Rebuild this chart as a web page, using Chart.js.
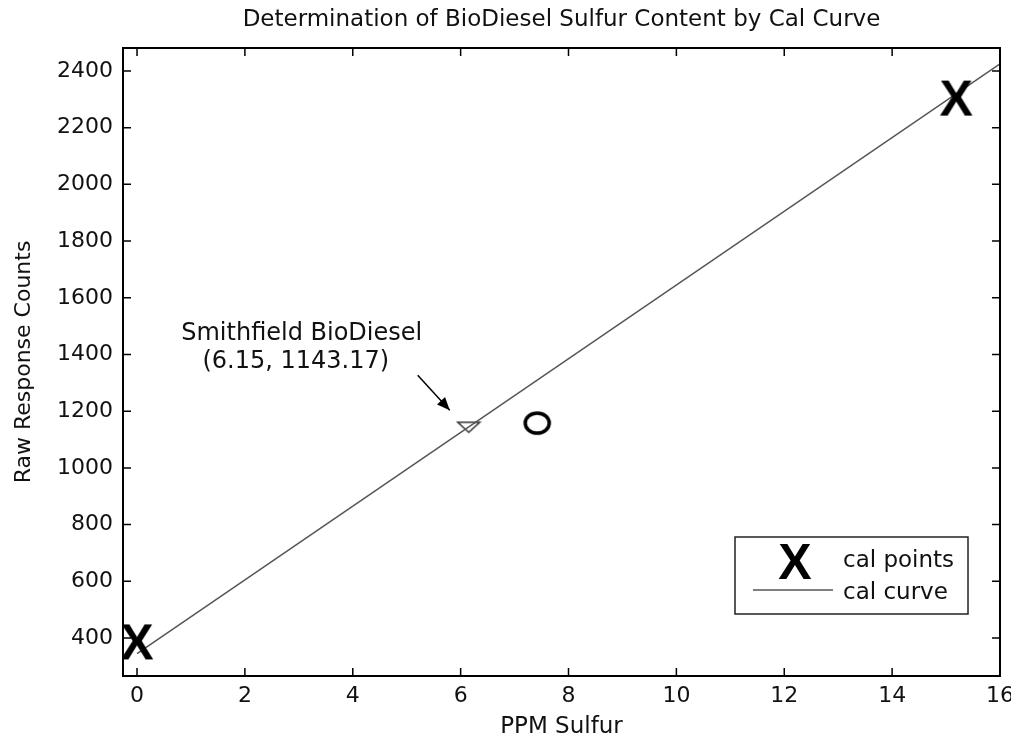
<!DOCTYPE html>
<html>
<head>
<meta charset="utf-8">
<script src="https://cdn.jsdelivr.net/npm/chart.js@4.4.1/dist/chart.umd.min.js"></script>
<style>
  html, body { margin: 0; padding: 0; background: #fff; }
  canvas { display: block; }
</style>
</head>
<body>
<canvas id="calChart" width="1011" height="737"></canvas>
<script>
const chartTitle = "Determination of BioDiesel Sulfur Content by Cal Curve";
const xAxisTitle = "PPM Sulfur";
const yAxisTitle = "Raw Response Counts";

const xTickValues = [0, 2, 4, 6, 8, 10, 12, 14, 16];
const yTickValues = [400, 600, 800, 1000, 1200, 1400, 1600, 1800, 2000, 2200, 2400];

// calibration standards (big X marks)
const calPointsX = [0, 15.19];
const calPointsY = [388, 2306];
// fitted calibration line
const calCurveX = [0, 16];
const calCurveY = [345, 2425];
// the sample that was measured
const sampleX = [6.15];
const sampleY = [1143.17];
const sampleNote = ["Smithfield BioDiesel", "(6.15, 1143.17)"];
// the loose "O" mark
const otherX = [7.42];
const otherY = [1158];

const FONT = "'DejaVu Sans', sans-serif";

function toPoints(xs, ys) {
  return xs.map((v, i) => ({ x: v, y: ys[i] }));
}

// marker images
function makeX() {
  const c = document.createElement('canvas');
  c.width = 42; c.height = 46;
  const g = c.getContext('2d');
  g.fillStyle = '#000';
  g.font = "bold 50px 'Liberation Sans', Arial, sans-serif";
  g.textAlign = 'center';
  g.textBaseline = 'alphabetic';
  g.fillText('X', 21, 23 + 18);
  return c;
}

function makeO() {
  const c = document.createElement('canvas');
  c.width = 32; c.height = 28;
  const g = c.getContext('2d');
  g.strokeStyle = '#000';
  g.lineWidth = 3.5;
  g.beginPath();
  g.ellipse(16, 14, 12, 10, 0, 0, Math.PI * 2);
  g.stroke();
  return c;
}

function makeTriangle() {
  const c = document.createElement('canvas');
  c.width = 26; c.height = 14;
  const g = c.getContext('2d');
  g.fillStyle = '#fff';
  g.strokeStyle = '#333';
  g.lineWidth = 1.5;
  g.beginPath();
  g.moveTo(2, 2);
  g.lineTo(24, 2);
  g.lineTo(13, 12);
  g.closePath();
  g.fill();
  g.stroke();
  return c;
}

const xMark = makeX();
const oMark = makeO();
const triMark = makeTriangle();

const framePlugin = {
  id: 'frame',
  beforeDraw(chart) {
    const ctx = chart.ctx;
    ctx.save();
    ctx.fillStyle = '#fff';
    ctx.fillRect(0, 0, chart.width, chart.height);
    ctx.restore();
  },
  afterDraw(chart) {
    const { ctx, chartArea: a, scales: { x, y } } = chart;
    ctx.save();

    // inward ticks on all four sides
    ctx.strokeStyle = '#000';
    ctx.lineWidth = 1.5;
    const tl = 8;
    xTickValues.forEach(v => {
      const px = x.getPixelForValue(v);
      ctx.beginPath();
      ctx.moveTo(px, a.bottom); ctx.lineTo(px, a.bottom - tl);
      ctx.moveTo(px, a.top); ctx.lineTo(px, a.top + tl);
      ctx.stroke();
    });
    yTickValues.forEach(v => {
      const py = y.getPixelForValue(v);
      ctx.beginPath();
      ctx.moveTo(a.left, py); ctx.lineTo(a.left + tl, py);
      ctx.moveTo(a.right, py); ctx.lineTo(a.right - tl, py);
      ctx.stroke();
    });

    // box
    ctx.lineWidth = 2;
    ctx.strokeRect(a.left, a.top, a.right - a.left, a.bottom - a.top);

    // titles
    const cx = (a.left + a.right) / 2;
    ctx.fillStyle = '#111';
    ctx.textAlign = 'center';
    ctx.textBaseline = 'middle';
    ctx.font = '23px ' + FONT;
    ctx.fillText(chartTitle, cx, 20);
    ctx.fillText(xAxisTitle, cx, 727);
    ctx.save();
    ctx.translate(24, (a.top + a.bottom) / 2);
    ctx.rotate(-Math.PI / 2);
    ctx.font = '22px ' + FONT;
    ctx.fillText(yAxisTitle, 0, 0);
    ctx.restore();

    // note for the sample
    const sx = x.getPixelForValue(sampleX[0]);
    const sy = y.getPixelForValue(sampleY[0]);
    ctx.font = '24px ' + FONT;
    ctx.fillText(sampleNote[0], sx - 167, sy - 94);
    ctx.fillText(sampleNote[1], sx - 173, sy - 66);
    // arrow
    const ax0 = sx - 51, ay0 = sy - 52, ax1 = sx - 19, ay1 = sy - 17;
    ctx.strokeStyle = '#000';
    ctx.lineWidth = 1.5;
    ctx.beginPath();
    ctx.moveTo(ax0, ay0); ctx.lineTo(ax1, ay1);
    ctx.stroke();
    const ang = Math.atan2(ay1 - ay0, ax1 - ax0);
    ctx.fillStyle = '#000';
    ctx.beginPath();
    ctx.moveTo(ax1, ay1);
    ctx.lineTo(ax1 - 14 * Math.cos(ang - 0.4), ay1 - 14 * Math.sin(ang - 0.4));
    ctx.lineTo(ax1 - 14 * Math.cos(ang + 0.4), ay1 - 14 * Math.sin(ang + 0.4));
    ctx.closePath();
    ctx.fill();

    // legend box
    const lx = a.right - 265, ly = a.bottom - 139, lw = 233, lh = 77;
    ctx.fillStyle = '#fff';
    ctx.fillRect(lx, ly, lw, lh);
    ctx.strokeStyle = '#222';
    ctx.lineWidth = 1.5;
    ctx.strokeRect(lx, ly, lw, lh);
    const ds = chart.data.datasets;
    ctx.drawImage(xMark, lx + 60 - xMark.width / 2, ly + 24 - xMark.height / 2);
    ctx.strokeStyle = ds[1].borderColor;
    ctx.lineWidth = ds[1].borderWidth;
    ctx.beginPath();
    ctx.moveTo(lx + 18, ly + 53); ctx.lineTo(lx + 98, ly + 53);
    ctx.stroke();
    ctx.fillStyle = '#111';
    ctx.textAlign = 'left';
    ctx.font = '23px ' + FONT;
    ctx.fillText(ds[0].label, lx + 108, ly + 24);
    ctx.fillText(ds[1].label, lx + 108, ly + 56);

    ctx.restore();
  }
};

new Chart(document.getElementById('calChart'), {
  type: 'scatter',
  data: {
    datasets: [
      {
        label: 'cal points',
        data: toPoints(calPointsX, calPointsY),
        pointStyle: xMark,
        pointRadius: 20
      },
      {
        label: 'cal curve',
        data: toPoints(calCurveX, calCurveY),
        showLine: true,
        borderColor: '#555',
        borderWidth: 1.5,
        pointRadius: 0
      },
      {
        label: 'sample',
        data: toPoints(sampleX, sampleY),
        pointStyle: triMark,
        pointRadius: 12
      },
      {
        label: 'other',
        data: toPoints(otherX, otherY),
        pointStyle: oMark,
        pointRadius: 12
      }
    ]
  },
  options: {
    responsive: false,
    animation: false,
    events: [],
    layout: { autoPadding: false, padding: { top: 48, right: 11, left: 0, bottom: 0 } },
    plugins: {
      legend: { display: false },
      title: { display: false },
      tooltip: { enabled: false }
    },
    scales: {
      x: {
        type: 'linear',
        min: -0.26,
        max: 16,
        grid: { display: false, drawTicks: false },
        border: { display: false },
        ticks: {
          padding: 7,
          color: '#111',
          font: { family: FONT, size: 22 },
          callback: v => String(v)
        },
        afterBuildTicks: s => { s.ticks = xTickValues.map(v => ({ value: v })); },
        afterFit: s => { s.height = 61; s.paddingLeft = 0; s.paddingRight = 0; }
      },
      y: {
        type: 'linear',
        min: 266,
        max: 2481,
        grid: { display: false, drawTicks: false },
        border: { display: false },
        ticks: {
          padding: 10,
          color: '#111',
          font: { family: FONT, size: 22 },
          callback: v => String(v)
        },
        afterBuildTicks: s => { s.ticks = yTickValues.map(v => ({ value: v })); },
        afterFit: s => { s.width = 123; s.paddingTop = 0; s.paddingBottom = 0; }
      }
    }
  },
  plugins: [framePlugin]
});
</script>
</body>
</html>
